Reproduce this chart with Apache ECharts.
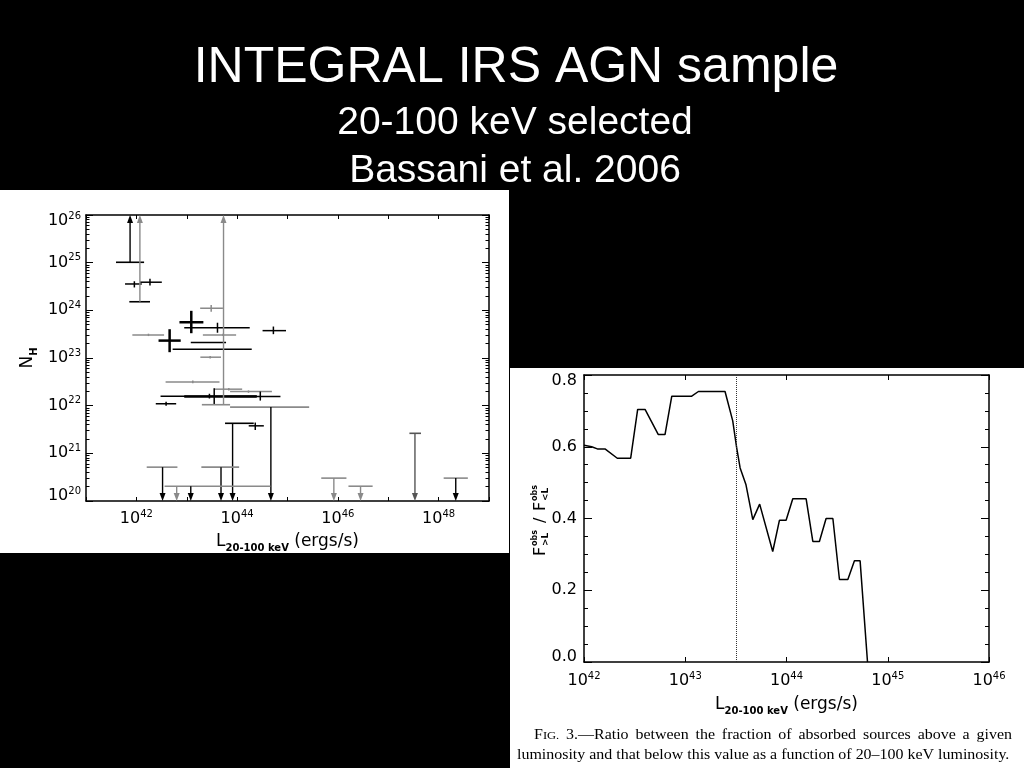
<!DOCTYPE html>
<html><head><meta charset="utf-8">
<script src="https://cdn.jsdelivr.net/npm/echarts@6/dist/echarts.min.js"></script>
<style>html,body{margin:0;padding:0;background:#000;}#c{width:1024px;height:768px;}</style>
</head><body><div id="c"></div>
<script>
// ---------- Left panel: N_H vs L(20-100 keV), log10 values ----------
// error-bar points
const ptL    = [41.96, 42.27, 43.485, 43.09, 43.61, 44.72, 42.24, 42.66, 43.72, 43.50, 43.73, 43.465, 43.12, 43.835, 44.226, 44.46, 43.45, 43.45, 42.59, 43.545, 44.36];
const ptLlo  = [41.775,42.07, 43.266, 42.855,42.95, 44.505,41.92, 42.44, 43.32, 43.08, 42.72, 43.27,  42.58, 43.545, 43.86,  43.86, 42.48, 42.95, 42.385,43.545, 44.23];
const ptLhi  = [42.107,42.505,43.718, 43.33, 44.25, 44.97, 42.55, 42.88, 43.98, 43.78, 44.29, 43.68,  43.65, 44.10,  44.69,  44.86, 44.39, 44.39, 42.79, 43.545, 44.53];
const ptNH   = [24.553,24.59, 24.044, 23.75, 23.637,23.574,23.484,23.365,23.484,23.323,23.184,23.017, 22.499,22.346, 22.296, 22.19, 22.20, 22.19, 22.04, 22.20,  21.577];
const ptNHlo = [24.48, 24.52, 23.97,  23.52, 23.53, 23.50, 23.46, 23.122,23.46, 23.323,23.184,22.99,  22.47, 22.32,  22.27,  22.107,22.15, 22.19, 22.00, 22.017, 21.49];
const ptNHhi = [24.61, 24.66, 24.11,  23.99, 23.74, 23.66, 23.51, 23.604,23.51, 23.323,23.184,23.04,  22.53, 22.37,  22.32,  22.296,22.25, 22.19, 22.08, 22.367, 21.646];
const ptGroup= ['A',   'A',   'B',    'C',   'A',   'A',   'B',   'C',   'B',   'A',   'A',   'B',    'B',   'B',    'B',    'A',   'A',   'C',   'A',   'A',    'A'];
// lower limits (arrow up)
const llL    = [41.875, 42.07, 43.73];
const llLlo  = [41.596, 41.86, 43.30];
const llLhi  = [42.153, 42.27, 43.86];
const llNH   = [25.008, 24.18, 22.02];
const llGroup= ['A', 'D', 'B'];
// upper limits (arrow down)
const ulL    = [44.67, 43.91, 42.52, 43.68, 42.80, 43.08, 45.92, 46.45, 47.53, 48.34];
const ulLlo  = [43.86, 43.76, 42.205,43.29, 42.56, 43.08, 45.67, 46.21, 47.42, 48.10];
const ulLhi  = [45.43, 44.33, 42.815,44.04, 44.66, 43.08, 46.17, 46.69, 47.65, 48.58];
const ulNH   = [21.97, 21.63, 20.71, 20.71, 20.31, 20.31, 20.48, 20.31, 21.42, 20.48];
const ulGroup= ['C',   'A',   'C',   'C',   'B',   'A',   'B',   'B',   'E',   'C'];
const leftXLabels = [42, 44, 46, 48];

// ---------- Right panel: F_obs(>L)/F_obs(<L) vs log L ----------
const ratioL = [42.00, 42.076, 42.132, 42.207, 42.329, 42.461, 42.530, 42.603, 42.734, 42.800, 42.867, 43.064, 43.130, 43.393, 43.469, 43.508, 43.542, 43.60, 43.667, 43.735, 43.864, 43.93, 43.996, 44.062, 44.194, 44.260, 44.325, 44.391, 44.458, 44.523, 44.606, 44.671, 44.727, 44.80];
const ratioF = [0.604, 0.600, 0.594, 0.594, 0.568, 0.568, 0.704, 0.704, 0.634, 0.634, 0.741, 0.741, 0.754, 0.754, 0.672, 0.597, 0.541, 0.494, 0.397, 0.440, 0.308, 0.395, 0.395, 0.455, 0.455, 0.336, 0.336, 0.400, 0.400, 0.230, 0.230, 0.282, 0.282, 0.0];
const cutLogL = [43.5];

// ---------- Texts ----------
const titleLines = ['INTEGRAL IRS AGN sample', '20-100 keV selected', 'Bassani et al. 2006'];
const captionLine1 = ['FIG.', '3.—Ratio', 'between', 'the', 'fraction', 'of', 'absorbed', 'sources', 'above', 'a', 'given'];
const captionLine2 = 'luminosity and that below this value as a function of 20–100 keV luminosity.';

// ---------- styles ----------
const GREY = '#8a8a8a';
const ptStyle = { A: {c: '#000', w: 1.5}, B: {c: GREY, w: 1.5}, C: {c: '#000', w: 2.5} };
const limStyle = {
  A: {bar: '#000', arr: '#000'}, B: {bar: GREY, arr: GREY}, C: {bar: GREY, arr: '#000'},
  D: {bar: '#000', arr: GREY}, E: {bar: '#555', arr: '#555'}
};
const FONT = 'DejaVu Sans';

const minorNH = [];
for (let n = 20; n < 26; n++) for (let k = 2; k <= 9; k++) minorNH.push(n + Math.log10(k));

function renderPoint(params, api) {
  const x = api.value(0), xlo = api.value(1), xhi = api.value(2);
  const y = api.value(3), ylo = api.value(4), yhi = api.value(5);
  const st = ptStyle[ptGroup[params.dataIndex]];
  const a = api.coord([xlo, y]), b = api.coord([xhi, y]);
  const c = api.coord([x, ylo]), d = api.coord([x, yhi]);
  const ls = {stroke: st.c, lineWidth: st.w};
  const ch = [];
  if (b[0] - a[0] > 0.5) ch.push({type: 'line', shape: {x1: a[0], y1: a[1], x2: b[0], y2: b[1]}, style: ls});
  if (c[1] - d[1] > 0.5) ch.push({type: 'line', shape: {x1: c[0], y1: c[1], x2: d[0], y2: d[1]}, style: ls});
  return {type: 'group', children: ch};
}
function makeLimitRenderer(groups, up) {
  return function (params, api) {
    const x = api.value(0), xlo = api.value(1), xhi = api.value(2), y = api.value(3);
    const st = limStyle[groups[params.dataIndex]];
    const a = api.coord([xlo, y]), b = api.coord([xhi, y]);
    const p = api.coord([x, y]);
    const e = api.coord([x, up ? 26 : 20]);
    const s = up ? 1 : -1, ah = 8, aw = 3;
    const ch = [];
    if (b[0] - a[0] > 0.5) ch.push({type: 'line', shape: {x1: a[0], y1: a[1], x2: b[0], y2: b[1]}, style: {stroke: st.bar, lineWidth: 1.6}});
    ch.push({type: 'line', shape: {x1: p[0], y1: p[1], x2: e[0], y2: e[1] + s * ah * 0.6}, style: {stroke: st.arr, lineWidth: 1.4}});
    ch.push({type: 'polygon', shape: {points: [[e[0], e[1]], [e[0] - aw, e[1] + s * ah], [e[0] + aw, e[1] + s * ah]]}, style: {fill: st.arr}});
    return {type: 'group', children: ch};
  };
}

const powRich = {
  b: {fontFamily: FONT, fontSize: 16, color: '#000', lineHeight: 20, verticalAlign: 'middle'},
  p: {fontFamily: FONT, fontSize: 10, color: '#000', lineHeight: 10, verticalAlign: 'top'},
  d: {fontFamily: FONT, fontSize: 16, color: '#000', lineHeight: 20, verticalAlign: 'middle'},
  sp12: {fontSize: 1, lineHeight: 12},
  sp10: {fontSize: 1, lineHeight: 10}
};
const nameRich = {
  m: {fontFamily: FONT, fontSize: 17, color: '#000', lineHeight: 22, verticalAlign: 'middle'},
  s: {fontFamily: FONT, fontSize: 10, fontWeight: 'bold', color: '#000', lineHeight: 10, verticalAlign: 'bottom'}
};
const lineStyleAx = {color: '#000', width: 1.5};

function xAx(grid, min, max, pos, opts) {
  return Object.assign({
    gridIndex: grid, type: 'value', min: min, max: max, interval: 1, position: pos,
    splitLine: {show: false},
    axisLine: {show: true, onZero: false, lineStyle: lineStyleAx},
    axisTick: {show: true, inside: true, length: 5, lineStyle: {color: '#000', width: 1}},
    axisLabel: {show: false}
  }, opts || {});
}

// end labels are nudged inside the frame, as in the original plots
function leftYLabel(v) {
  const t = '{b|10}{p|' + v + '}';
  if (v === 26) return '{sp12| }\n' + t;
  if (v === 20) return t + '\n{sp10| }';
  return t;
}
function rightYLabel(v) {
  const t = '{d|' + v.toFixed(1) + '}';
  if (Math.abs(v - 0.8) < 1e-9) return '{sp12| }\n' + t;
  if (Math.abs(v) < 1e-9) return t + '\n{sp10| }';
  return t;
}

const chart = echarts.init(document.getElementById('c'), null, {renderer: 'canvas'});

// caption layout (justify line 1)
const CAP_SX = 1.14;
const mctx = document.createElement('canvas').getContext('2d');
function mw(t, size) { mctx.font = size + 'px "Liberation Serif"'; return mctx.measureText(t).width * CAP_SX; }
const capX0 = 534, capX1 = 1012;
const wordW = captionLine1.map((w, i) => i === 0 ? mw(w[0], 14) + mw(w.slice(1), 11) : mw(w, 14));
const gap = (capX1 - capX0 - wordW.reduce((a, b) => a + b, 0)) / (captionLine1.length - 1);
const capGraphics = [];
let cx = capX0;
captionLine1.forEach((w, i) => {
  const txt = i === 0 ? '{a|' + w[0] + '}{c|' + w.slice(1) + '}' : '{a|' + w + '}';
  capGraphics.push({type: 'text', x: cx, y: 742, scaleX: CAP_SX, style: {text: txt, textAlign: 'left', textVerticalAlign: 'bottom',
    rich: {a: {fontFamily: 'Liberation Serif', fontSize: 14, fill: '#000', color: '#000', lineHeight: 16, verticalAlign: 'bottom'},
           c: {fontFamily: 'Liberation Serif', fontSize: 11, fill: '#000', color: '#000', lineHeight: 13, verticalAlign: 'bottom'}}}});
  cx += wordW[i] + gap;
});
capGraphics.push({type: 'text', x: 517, y: 755, scaleX: CAP_SX, style: {text: captionLine2, fill: '#000', fontFamily: 'Liberation Serif', fontSize: 14, textAlign: 'left', textVerticalAlign: 'middle'}});

const yNameRight = {
  type: 'group', x: 541, y: 517, rotation: Math.PI / 2,
  children: [
    {type: 'text', x: -39, y: 0, style: {text: 'F', fill: '#000', fontFamily: FONT, fontSize: 16, textAlign: 'left', textVerticalAlign: 'middle'}},
    {type: 'text', x: -29, y: -6, style: {text: 'obs', fill: '#000', fontFamily: FONT, fontSize: 8, fontWeight: 'bold', textAlign: 'left', textVerticalAlign: 'middle'}},
    {type: 'text', x: -29, y: 5, style: {text: '>L', fill: '#000', fontFamily: FONT, fontSize: 9, fontWeight: 'bold', textAlign: 'left', textVerticalAlign: 'middle'}},
    {type: 'text', x: -6, y: 0, style: {text: '/', fill: '#000', fontFamily: FONT, fontSize: 16, textAlign: 'left', textVerticalAlign: 'middle'}},
    {type: 'text', x: 6, y: 0, style: {text: 'F', fill: '#000', fontFamily: FONT, fontSize: 16, textAlign: 'left', textVerticalAlign: 'middle'}},
    {type: 'text', x: 16, y: -6, style: {text: 'obs', fill: '#000', fontFamily: FONT, fontSize: 8, fontWeight: 'bold', textAlign: 'left', textVerticalAlign: 'middle'}},
    {type: 'text', x: 16, y: 5, style: {text: '<L', fill: '#000', fontFamily: FONT, fontSize: 9, fontWeight: 'bold', textAlign: 'left', textVerticalAlign: 'middle'}}
  ]
};

const option = {
  backgroundColor: '#000',
  animation: false,
  graphic: [
    {type: 'rect', z: -100, shape: {x: 0, y: 190, width: 509, height: 363}, style: {fill: '#fff'}},
    {type: 'rect', z: -100, shape: {x: 510, y: 368, width: 514, height: 400}, style: {fill: '#fff'}},
    {type: 'text', x: 516, y: 68, style: {text: titleLines[0], fill: '#fff', fontFamily: 'Liberation Sans', fontSize: 50, textAlign: 'center', textVerticalAlign: 'middle'}},
    {type: 'text', x: 515, y: 123, style: {text: titleLines[1], fill: '#fff', fontFamily: 'Liberation Sans', fontSize: 39, textAlign: 'center', textVerticalAlign: 'middle'}},
    {type: 'text', x: 515, y: 171, style: {text: titleLines[2], fill: '#fff', fontFamily: 'Liberation Sans', fontSize: 39, textAlign: 'center', textVerticalAlign: 'middle'}},
    yNameRight
  ].concat(capGraphics),
  grid: [
    {left: 86, top: 215, width: 403, height: 286, containLabel: false, outerBoundsMode: 'none'},
    {left: 584, top: 375, width: 405, height: 287, containLabel: false, outerBoundsMode: 'none'}
  ],
  xAxis: [
    xAx(0, 41, 49, 'bottom', {
      axisTick: {show: true, inside: true, length: 4, lineStyle: {color: '#000', width: 1}},
      axisLabel: {show: true, margin: 8, formatter: v => leftXLabels.indexOf(v) >= 0 ? '{b|10}{p|' + v + '}' : '', rich: powRich},
      name: '{m|L}{s|20-100 keV}{m| (ergs/s)}', nameLocation: 'middle', nameGap: 30,
      nameTextStyle: {rich: nameRich}
    }),
    xAx(0, 41, 49, 'top', {axisTick: {show: true, inside: true, length: 4, lineStyle: {color: '#000', width: 1}}}),
    xAx(1, 42, 46, 'bottom', {
      axisTick: {show: true, inside: true, length: 5, lineStyle: {color: '#000', width: 1}},
      axisLabel: {show: true, margin: 9, formatter: v => '{b|10}{p|' + v + '}', rich: powRich},
      name: '{m|L}{s|20-100 keV}{m| (ergs/s)}', nameLocation: 'middle', nameGap: 32,
      nameTextStyle: {rich: nameRich}
    }),
    xAx(1, 42, 46, 'top', {axisTick: {show: true, inside: true, length: 5, lineStyle: {color: '#000', width: 1}}})
  ],
  yAxis: [
    {gridIndex: 0, type: 'value', min: 20, max: 26, interval: 1, position: 'left',
      splitLine: {show: false}, axisLine: {show: true, onZero: false, lineStyle: lineStyleAx},
      axisTick: {show: true, inside: true, length: 7, lineStyle: {color: '#000', width: 1}},
      axisLabel: {show: true, margin: 5, formatter: leftYLabel, rich: powRich, showMinLabel: true, showMaxLabel: true},
      name: '{m|N}{s|H}', nameLocation: 'middle', nameRotate: 90, nameGap: 47, nameTextStyle: {rich: nameRich}},
    {gridIndex: 0, type: 'value', min: 20, max: 26, interval: 1, position: 'left',
      splitLine: {show: false}, axisLine: {show: false},
      axisTick: {show: true, inside: true, length: 3.5, customValues: minorNH, lineStyle: {color: '#000', width: 1}},
      axisLabel: {show: false}},
    {gridIndex: 0, type: 'value', min: 20, max: 26, interval: 1, position: 'right',
      splitLine: {show: false}, axisLine: {show: true, onZero: false, lineStyle: lineStyleAx},
      axisTick: {show: true, inside: true, length: 7, lineStyle: {color: '#000', width: 1}},
      axisLabel: {show: false}},
    {gridIndex: 0, type: 'value', min: 20, max: 26, interval: 1, position: 'right',
      splitLine: {show: false}, axisLine: {show: false},
      axisTick: {show: true, inside: true, length: 3.5, customValues: minorNH, lineStyle: {color: '#000', width: 1}},
      axisLabel: {show: false}},
    {gridIndex: 1, type: 'value', min: 0, max: 0.8, interval: 0.2, position: 'left',
      splitLine: {show: false}, axisLine: {show: true, onZero: false, lineStyle: lineStyleAx},
      axisTick: {show: true, inside: true, length: 8, lineStyle: {color: '#000', width: 1}},
      minorTick: {show: true, splitNumber: 4, length: 4, lineStyle: {color: '#000', width: 1}},
      axisLabel: {show: true, margin: 7, formatter: rightYLabel, rich: powRich, showMinLabel: true, showMaxLabel: true}},
    {gridIndex: 1, type: 'value', min: 0, max: 0.8, interval: 0.2, position: 'right',
      splitLine: {show: false}, axisLine: {show: true, onZero: false, lineStyle: lineStyleAx},
      axisTick: {show: true, inside: true, length: 8, lineStyle: {color: '#000', width: 1}},
      minorTick: {show: true, splitNumber: 4, length: 4, lineStyle: {color: '#000', width: 1}},
      axisLabel: {show: false}}
  ],
  series: [
    {type: 'custom', xAxisIndex: 0, yAxisIndex: 0, clip: false, z: 3, renderItem: renderPoint,
      encode: {x: 0, y: 3},
      data: ptL.map((v, i) => [v, ptLlo[i], ptLhi[i], ptNH[i], ptNHlo[i], ptNHhi[i]])},
    {type: 'custom', xAxisIndex: 0, yAxisIndex: 0, clip: false, z: 3, renderItem: makeLimitRenderer(llGroup, true),
      encode: {x: 0, y: 3},
      data: llL.map((v, i) => [v, llLlo[i], llLhi[i], llNH[i]])},
    {type: 'custom', xAxisIndex: 0, yAxisIndex: 0, clip: false, z: 3, renderItem: makeLimitRenderer(ulGroup, false),
      encode: {x: 0, y: 3},
      data: ulL.map((v, i) => [v, ulLlo[i], ulLhi[i], ulNH[i]])},
    {type: 'line', xAxisIndex: 2, yAxisIndex: 4, showSymbol: false, symbol: 'none',
      lineStyle: {color: '#000', width: 1.5}, z: 3,
      data: ratioL.map((v, i) => [v, ratioF[i]]),
      markLine: {silent: true, symbol: ['none', 'none'], label: {show: false},
        lineStyle: {type: 'dotted', color: '#333', width: 1},
        data: cutLogL.map(v => ({xAxis: v}))}}
  ]
};
chart.setOption(option);
</script></body></html>
